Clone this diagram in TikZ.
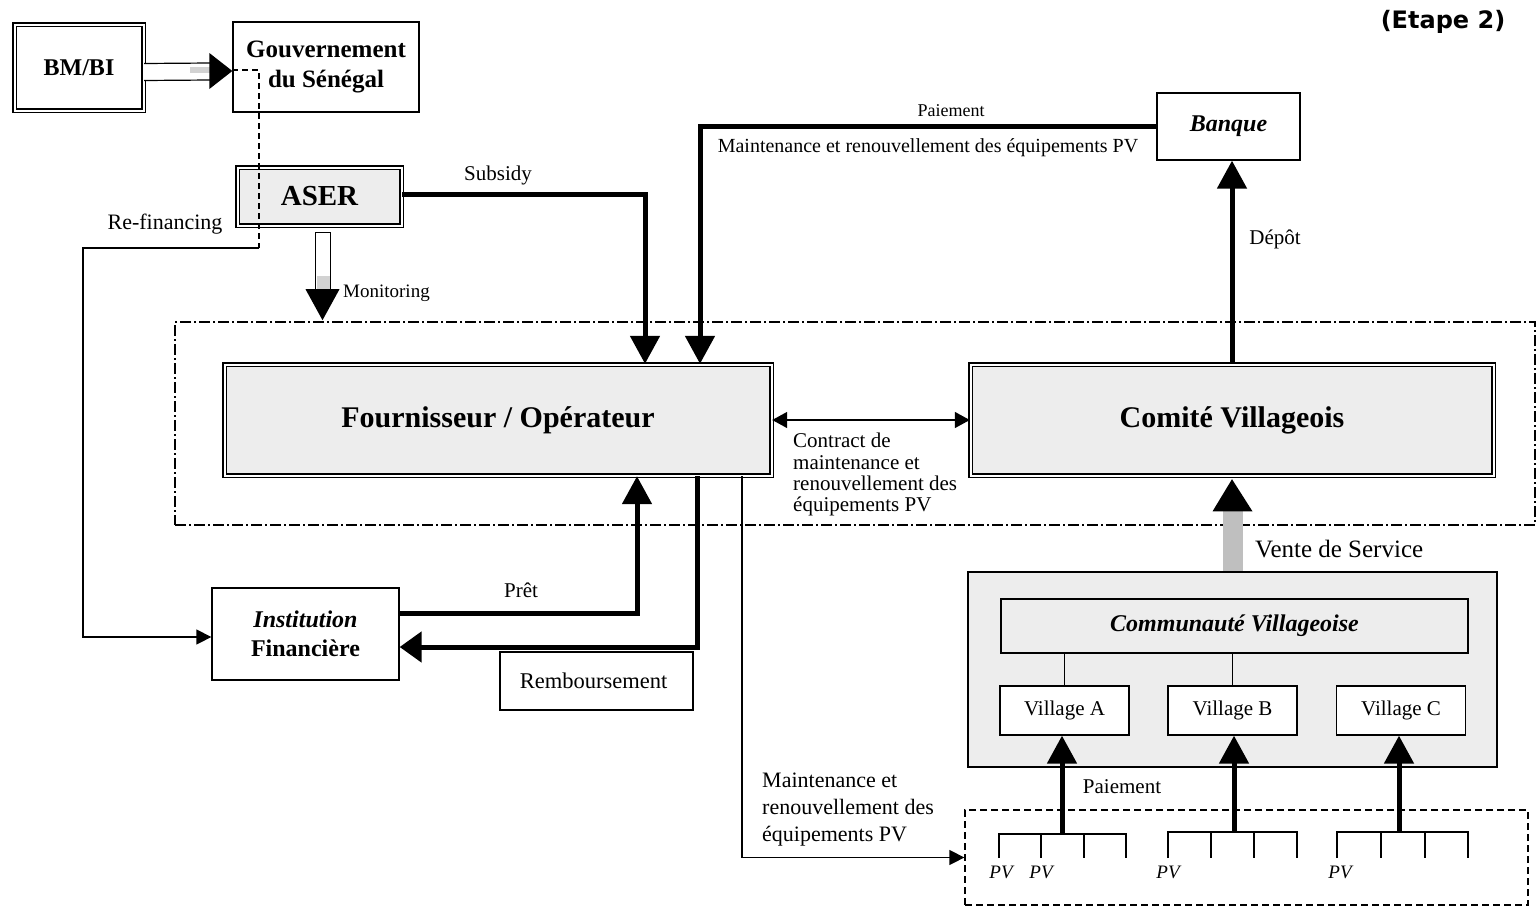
\documentclass[tikz,border=0pt]{standalone}
\usepackage{fontspec}
\setmainfont{Liberation Serif}
\newfontfamily\etapefont{DejaVu Sans}
\usetikzlibrary{arrows.meta,calc}
\tikzset{
  mybox/.style={draw, line width=1.3pt, fill=white, inner sep=0pt, align=center},
  dblbox/.style={draw, line width=1.4pt, double=white, double distance=2pt, fill=white, inner sep=0pt, align=center},
  stip/.style={fill=gray!14},
  fatarr/.style={line width=5pt, -{Triangle[length=28pt,width=29pt]}},
  thinarr/.style={line width=1.4pt, -{Triangle[length=15pt,width=15pt]}},
  lbl/.style={inner sep=0pt, font=\fontsize{20}{22}\selectfont},
  vil/.style={mybox, minimum width=129pt, minimum height=49pt, font=\fontsize{21}{23}\selectfont},
  pvl/.style={inner sep=0pt, font=\itshape\fontsize{19}{21}\selectfont},
}
\begin{document}
\begin{tikzpicture}[x=1pt,y=-1pt]
\useasboundingbox (0,0) rectangle (1537,910);
\fill[white] (0,0) rectangle (1537,910);

% dash-dot frame
\node[draw, line width=1.2pt, dash pattern=on 11pt off 3pt on 2pt off 3pt, minimum width=1360pt, minimum height=203pt, inner sep=0pt] (frame) at (855,423.5) {};

% boxes
\node[dblbox, minimum width=129pt, minimum height=86pt, font=\bfseries\fontsize{24}{26}\selectfont] (bm) at (79,67.5) {BM/BI};
\node[mybox, minimum width=186pt, minimum height=90pt, font=\bfseries\fontsize{25}{30}\selectfont] (gov) at (326,67) {Gouvernement\\du Sénégal};
\node[dblbox, stip, minimum width=164pt, minimum height=58pt, font=\bfseries\fontsize{29}{30}\selectfont] (aser) at (319.5,196.5) {ASER};
\node[mybox, minimum width=143pt, minimum height=67pt, font=\bfseries\itshape\fontsize{24}{26}\selectfont] (banque) at (1228.5,126.5) {Banque};
\node[dblbox, stip, minimum width=547pt, minimum height=111pt, font=\bfseries\fontsize{30}{32}\selectfont] (four) at (498,420) {Fournisseur / Opérateur};
\node[dblbox, stip, minimum width=523pt, minimum height=111pt, font=\bfseries\fontsize{30}{32}\selectfont] (comite) at (1232,420) {Comité Villageois};
\node[mybox, stip, line width=1.2pt, minimum width=529pt, minimum height=195pt] (comm) at (1232.5,669.5) {};
\node[mybox, stip, line width=1.2pt, minimum width=467pt, minimum height=54pt, font=\bfseries\itshape\fontsize{24}{26}\selectfont] (commv) at (1234.5,626) {Communauté Villageoise};
\node[vil] (va) at (1064.5,710.5) {Village A};
\node[vil] (vb) at (1232.5,710.5) {Village B};
\node[vil] (vc) at (1401,710.5) {Village C};
\node[mybox, minimum width=187pt, minimum height=92pt, font=\bfseries\fontsize{24}{29}\selectfont] (inst) at (305.5,634) {{\itshape Institution}\\Financière};
\node[mybox, line width=1.2pt, minimum width=193pt, minimum height=58pt, font=\fontsize{22.5}{24}\selectfont] (remb) at (596.5,681) {Remboursement\hspace*{6pt}};
\node[draw, line width=1.3pt, dash pattern=on 7pt off 4pt, minimum width=563pt, minimum height=95pt, inner sep=0pt] (pvbox) at (1246.5,857.5) {};

% title
\node[inner sep=0pt, font=\etapefont\bfseries\fontsize{24}{26}\selectfont] (etape) at (1443,22) {(Etape 2)};

% BM/BI -> Gouvernement (hollow arrow)
\fill[white] ($(bm.east)+(0,-4)$) rectangle ($(gov.west)+(-22,13)$);
\fill[gray!35] ($(gov.west)+(-42,0)$) rectangle ($(gov.west)+(-22,6)$);
\draw[line width=1.2pt] ($(bm.east)+(0,-4)$) -- ($(gov.west)+(-22,-4)$);
\draw[line width=1.2pt] ($(bm.east)+(0,13)$) -- ($(gov.west)+(-22,13)$);
\fill ($(gov.west)+(-23,-14)$) -- ($(gov.west)+(0,4)$) -- ($(gov.west)+(-23,22)$) -- cycle;

% Re-financing
\coordinate (rf) at (259,248);
\coordinate (rfl) at (83,248);
\draw[line width=1.2pt, dash pattern=on 6pt off 4pt] ([yshift=-3pt]gov.west) -| (rf);
\draw[thinarr] (rf) -- (rfl) |- ([yshift=-3pt]inst.west);
\node[lbl, font=\fontsize{22}{24}\selectfont] (lref) at (165,224) {Re-financing};

% Monitoring (hollow arrow)
\draw[line width=1.2pt, fill=white] ($(aser.south)+(-4,6)$) rectangle ($(aser.south)+(11,64)$);
\fill[gray!35] ($(aser.south)+(-3,50)$) rectangle ($(aser.south)+(10,64)$);
\fill ($(aser.south)+(-14,63)$) -- ($(aser.south)+(20,63)$) -- ($(aser.south)+(3,94)$) -- cycle;
\node[lbl, anchor=west, font=\fontsize{19}{21}\selectfont] (lmon) at (343,293) {Monitoring};

% Subsidy
\coordinate (xs) at (645,0);
\draw[fatarr] ([yshift=2pt]aser.east) -| (xs |- four.north);
\node[lbl, font=\fontsize{21}{23}\selectfont] (lsub) at (498,175) {Subsidy};

% Paiement from Banque
\coordinate (xp) at (700,0);
\draw[fatarr] (banque.west) -| (xp |- four.north);
\node[lbl, font=\fontsize{18}{20}\selectfont] (lpai) at (951,111) {Paiement};
\node[lbl] (lmaint) at (928,148) {Maintenance et renouvellement des équipements PV};

% Depot
\draw[fatarr] (comite.north) -- (comite.north |- banque.south);
\node[lbl, font=\fontsize{21}{23}\selectfont] (ldep) at (1275,239) {Dépôt};

% Contract
\draw[line width=1.4pt, {Triangle[length=15pt,width=16pt]}-{Triangle[length=15pt,width=16pt]}] (four.east) -- (comite.west);
\node[lbl, align=left, anchor=north west, font=\fontsize{21}{21.3}\selectfont] (lcon) at (793,433) {Contract de\\maintenance et\\renouvellement des\\équipements PV};

% Vente de Service
\fill[gray!50] ($(comm.north)+(-10,0)$) rectangle ($(comm.north)+(10,-60)$);
\fill ($(comm.north)+(-20,-60)$) -- ([yshift=-3pt]comite.south) -- ($(comm.north)+(20,-60)$) -- cycle;
\node[lbl, anchor=west, font=\fontsize{25}{26}\selectfont] (lvente) at (1255,549) {Vente de Service};

% village links
\draw[line width=1pt] (commv.south -| va.north) -- (va.north);
\draw[line width=1pt] (commv.south -| vb.north) -- (vb.north);

% PV groups
\draw[line width=1.3pt] (999,858) |- (1126,834) -- (1126,858);
\draw[line width=1.3pt] (1041,834) -- (1041,858) (1084,834) -- (1084,858);
\draw[line width=1.3pt] (1168,858) |- (1297,832) -- (1297,858);
\draw[line width=1.3pt] (1211,832) -- (1211,858) (1254,832) -- (1254,858);
\draw[line width=1.3pt] (1337,858) |- (1468,832) -- (1468,858);
\draw[line width=1.3pt] (1381,832) -- (1381,858) (1425,832) -- (1425,858);
\coordinate (ga) at (1062,834);
\coordinate (gb) at (1234,832);
\coordinate (gc) at (1399,832);
\draw[fatarr] (ga) -- (ga |- va.south);
\draw[fatarr] (gb) -- (gb |- vb.south);
\draw[fatarr] (gc) -- (gc |- vc.south);
\node[lbl, font=\fontsize{21}{23}\selectfont] (lpai2) at (1122,787) {Paiement};
\node[pvl] (pv1) at (1001,872) {PV};
\node[pvl] (pv2) at (1041,872) {PV};
\node[pvl] (pv3) at (1168,872) {PV};
\node[pvl] (pv4) at (1340,872) {PV};

% Pret / Remboursement / Maintenance
\coordinate (xpr) at (637,0);
\coordinate (xrb) at (697,0);
\coordinate (xm) at (742,0);
\draw[fatarr] ([yshift=21pt]inst.east) -| (xpr |- four.south);
\node[lbl, font=\fontsize{21}{23}\selectfont] (lpret) at (521,590) {Prêt};
\draw[line width=5pt, -{Triangle[length=22pt,width=30pt]}] (xrb |- four.south) |- ([yshift=-13pt]inst.east);
\draw[thinarr] (xm |- four.south) |- (pvbox.west);
\node[lbl, align=left, anchor=north west, font=\fontsize{22}{27}\selectfont] (lmpv) at (762,773) {Maintenance et\\renouvellement des\\équipements PV};
\end{tikzpicture}
\end{document}
